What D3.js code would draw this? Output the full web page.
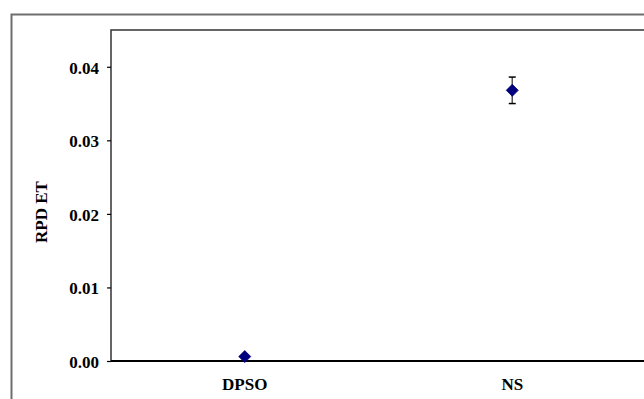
<!DOCTYPE html>
<html>
<head>
<meta charset="utf-8">
<script src="https://cdn.jsdelivr.net/npm/d3@7"></script>
<style>
  body { margin: 0; background: #fff; }
  text { font-family: "Liberation Serif", "Times New Roman", serif; font-weight: bold; }
</style>
</head>
<body>
<div id="chart"></div>
<script>
// data
const categories = ["DPSO", "NS"];
const values = [0.0006, 0.0368];
const errors = [0, 0.0018];
const yTicks = [0, 0.01, 0.02, 0.03, 0.04];

const width = 644, height = 399;
const plot = { left: 111, top: 30, right: 646, bottom: 361 };

const svg = d3.select("#chart").append("svg")
  .attr("width", width)
  .attr("height", height);

// outer chart frame (runs off the right and bottom edge)
svg.append("rect")
  .attr("x", 11.5).attr("y", 14.5)
  .attr("width", 700).attr("height", 500)
  .attr("fill", "none")
  .attr("stroke", "#6e6e6e")
  .attr("stroke-width", 2);

const x = d3.scaleBand()
  .domain(categories)
  .range([plot.left, plot.right]);

const y = d3.scaleLinear()
  .domain([0, 0.045])
  .range([plot.bottom, plot.top]);

// plot area border (top + left)
svg.append("path")
  .attr("d", `M${plot.left},${plot.bottom}V${plot.top}H${width + 10}`)
  .attr("fill", "none")
  .attr("stroke", "#333")
  .attr("stroke-width", 1.5);

// y axis
const yAxis = svg.append("g")
  .attr("transform", `translate(${plot.left},0)`)
  .call(d3.axisLeft(y).tickValues(yTicks).tickFormat(d3.format(".2f")).tickSize(4).tickPadding(8));
yAxis.select(".domain").remove();
yAxis.selectAll(".tick line").attr("stroke", "#000").attr("stroke-width", 1.2);
yAxis.selectAll(".tick text")
  .attr("fill", "#000")
  .attr("dy", "0.38em")
  .style("font-size", "17px");

// x axis line
svg.append("line")
  .attr("x1", plot.left).attr("x2", width)
  .attr("y1", y(0)).attr("y2", y(0))
  .attr("stroke", "#000")
  .attr("stroke-width", 2);

svg.append("g").selectAll("text")
  .data(categories)
  .enter().append("text")
  .attr("x", d => x(d) + x.bandwidth() / 2)
  .attr("y", 390)
  .attr("text-anchor", "middle")
  .style("font-size", "17px")
  .text(d => d);

// y axis title
svg.append("text")
  .attr("transform", `translate(47,212) rotate(-90)`)
  .attr("text-anchor", "middle")
  .style("font-size", "17px")
  .text("RPD ET");

// error bars
const pts = categories.map((c, i) => ({ c, v: values[i], e: errors[i] }));
const eb = svg.append("g").selectAll("g")
  .data(pts.filter(d => d.e > 0))
  .enter().append("g");
eb.append("line")
  .attr("x1", d => x(d.c) + x.bandwidth() / 2)
  .attr("x2", d => x(d.c) + x.bandwidth() / 2)
  .attr("y1", d => y(d.v + d.e))
  .attr("y2", d => y(d.v - d.e))
  .attr("stroke", "#555")
  .attr("stroke-width", 1.5);
[1, -1].forEach(s => {
  eb.append("line")
    .attr("x1", d => x(d.c) + x.bandwidth() / 2 - 3.5)
    .attr("x2", d => x(d.c) + x.bandwidth() / 2 + 3.5)
    .attr("y1", d => y(d.v + s * d.e))
    .attr("y2", d => y(d.v + s * d.e))
    .attr("stroke", "#000")
    .attr("stroke-width", 1.5);
});

// diamond markers
svg.append("g").selectAll("path")
  .data(pts)
  .enter().append("path")
  .attr("transform", d => `translate(${x(d.c) + x.bandwidth() / 2},${y(d.v)})`)
  .attr("d", "M0,-6L6,0L0,6L-6,0Z")
  .attr("fill", "#000080")
  .attr("stroke", "#000066")
  .attr("stroke-width", 0.8);
</script>
</body>
</html>
